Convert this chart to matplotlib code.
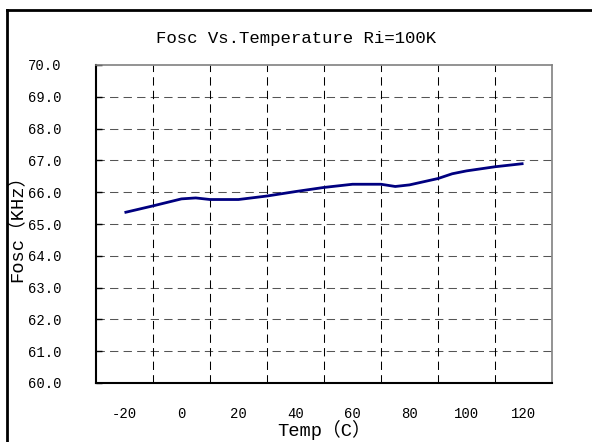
import matplotlib
matplotlib.use('Agg')
import matplotlib.pyplot as plt
from matplotlib.lines import Line2D

plt.rcParams['font.family'] = ['Liberation Mono', 'Noto Sans CJK SC', 'DejaVu Sans']

# --- data ---
temp = [-20, -10, 0, 5, 10, 20, 30, 40, 50, 60, 70, 75, 80, 90, 95, 100, 110, 120]
fosc = [65.36, 65.57, 65.79, 65.82, 65.77, 65.77, 65.88, 66.02, 66.15, 66.25,
        66.25, 66.18, 66.23, 66.43, 66.58, 66.67, 66.80, 66.90]

x_labels = [-20, 0, 20, 40, 60, 80, 100, 120]
x_grid = [-10, 10, 30, 50, 70, 90, 110]
y_ticks = [60, 61, 62, 63, 64, 65, 66, 67, 68, 69, 70]

fig = plt.figure(figsize=(5.92, 4.42), dpi=100)
ax = fig.add_axes([96 / 592, 59 / 442, 456 / 592, 318 / 442])

# grid
for g in y_ticks[1:-1]:
    ax.axhline(g, color='#555555', lw=0.75, dashes=(8, 5), zorder=1)
for g in x_grid:
    ax.axvline(g, color='black', lw=0.75, dashes=(8, 5), zorder=1)

ax.plot(temp, fosc, color='#000080', lw=2.0, zorder=3, solid_capstyle='butt')

ax.set_xlim(-30, 130)
ax.set_ylim(60, 70)

ax.set_yticks(y_ticks)
ax.set_yticklabels([f'{v:.1f}' for v in y_ticks], fontsize=10)
ax.tick_params(axis='y', length=4, direction='in', pad=25, width=1)

ax.set_xticks(x_grid)
ax.set_xticklabels([])
ax.set_xticks(x_labels, minor=True)
ax.set_xticklabels([str(v) for v in x_labels], minor=True, fontsize=10)
ax.tick_params(axis='x', which='both', length=0, pad=17)

for side in ['left', 'bottom']:
    ax.spines[side].set_color('black')
    ax.spines[side].set_linewidth(1.5)
for side in ['top', 'right']:
    ax.spines[side].set_color('#808080')
    ax.spines[side].set_linewidth(1.2)

ax.set_xlabel('Temp（C）', fontsize=13.5, va='center')
ax.xaxis.set_label_coords(0.5, -47 / 318)
ax.set_ylabel('Fosc（KHz）', fontsize=13.5, va='center')
ax.yaxis.set_label_coords(-79 / 456, 0.5)

fig.text(0.5, 1 - 39 / 442, 'Fosc Vs.Temperature Ri=100K', fontsize=12.5,
         ha='center', va='center')

# outer frame (cropped at right and bottom)
fig.add_artist(Line2D([6.5 / 592, 6.5 / 592], [0, 1 - 10 / 442],
                      transform=fig.transFigure, color='black', lw=2))
fig.add_artist(Line2D([6.5 / 592, 1], [1 - 10 / 442, 1 - 10 / 442],
                      transform=fig.transFigure, color='black', lw=2))

fig.savefig('out.png', dpi=100)
